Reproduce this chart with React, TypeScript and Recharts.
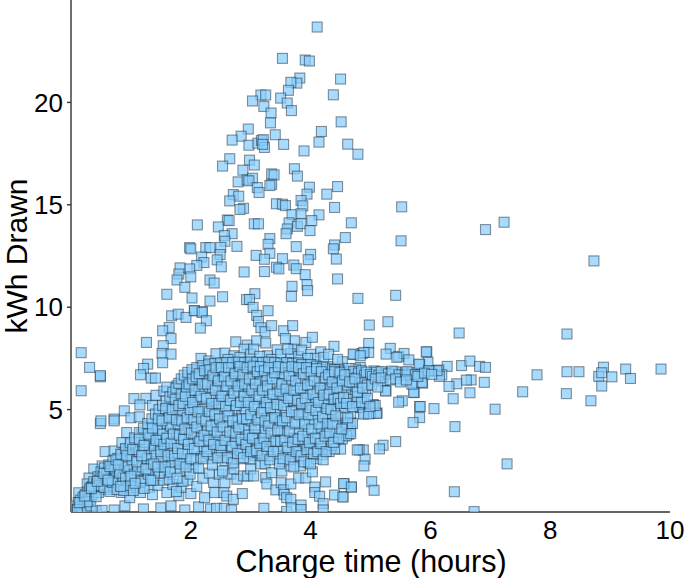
import React from "react";
import { ScatterChart, Scatter, XAxis, YAxis } from "recharts";

type Pt = [number, number];

const xTicks = [2, 4, 6, 8, 10];
const yTicks = [5, 10, 15, 20];
const xTitle = "Charge time (hours)";
const yTitle = "kWh Drawn";

const upperBranch: Pt[] = [[4.11,23.68],[3.53,22.15],[3.91,22.07],[3.98,22.02],[4.5,21.14],[3.82,21.19],[3.77,20.94],[3.67,20.98],[3.63,20.59],[4.38,20.37],[3.17,20.36],[3.25,20.36],[3.03,20.07],[3.5,20.21],[3.61,19.97],[3.22,19.8],[3.68,19.6],[3.34,19.48],[3.33,19.0],[4.51,19.05],[4.18,18.58],[2.96,18.7],[2.84,18.35],[2.69,18.16],[3.41,18.42],[4.14,18.06],[4.62,17.96],[4.79,17.47],[3.55,17.95],[3.89,17.63],[2.97,17.91],[3.12,18.01],[3.18,18.14],[3.21,18.18],[3.23,17.8],[3.2,17.95],[2.65,17.25],[2.53,16.89],[2.98,17.18],[3.06,16.94],[2.87,16.69],[3.73,16.76],[3.78,16.4],[3.35,16.51],[3.39,16.46],[2.79,16.12],[2.94,16.22],[3.03,16.3],[2.97,16.17],[3.35,16.0],[3.32,15.94],[3.11,15.84],[3.14,15.6],[3.98,15.86],[4.45,15.89],[3.94,15.52],[4.27,15.52],[2.71,15.5],[2.8,15.42],[2.65,15.19],[3.84,15.21],[3.87,14.95],[3.43,15.05],[3.53,15.03],[3.58,14.96],[4.4,14.87],[5.52,14.9],[2.88,14.83],[2.82,14.77],[3.69,14.52],[3.84,14.56],[4.14,14.51],[2.61,14.26],[2.64,14.23],[2.11,14.02],[2.46,13.92],[3.06,14.07],[3.13,14.07],[3.64,14.12],[3.61,13.82],[3.59,13.59],[3.78,13.95],[3.84,14.08],[4.02,14.23],[3.99,13.74],[4.68,14.12],[2.69,13.59],[2.56,13.5],[2.57,13.22],[3.32,13.35],[3.29,13.07],[4.58,13.4],[5.51,13.24],[3.76,12.96],[4.4,13.04],[4.38,12.85],[1.98,12.91],[2.0,12.85],[2.25,12.91],[2.32,12.91],[2.77,12.97],[2.5,12.92],[2.49,12.57],[2.44,12.31],[3.32,12.63],[3.09,12.53],[3.23,12.34],[3.53,12.37],[4.0,12.58],[3.96,12.32],[4.43,12.35],[2.18,12.45],[2.22,12.18],[2.1,12.04],[1.98,11.87],[1.82,11.92],[1.8,11.62],[1.77,11.33],[2.51,11.97],[2.0,11.48],[1.9,10.97],[2.32,11.33],[2.39,11.18],[2.89,11.72],[3.23,11.74],[3.43,11.95],[3.47,11.87],[3.72,12.06],[3.76,11.88],[3.91,11.59],[4.45,11.38],[3.69,11.02],[3.94,11.1],[3.95,10.81],[3.68,10.53],[4.79,10.43],[5.42,10.58],[1.6,10.63],[2.02,10.45],[2.32,10.3],[2.53,10.51],[3.07,10.66],[2.93,10.37],[2.98,10.38],[2.06,9.83],[2.19,9.78],[3.04,9.99],[3.29,9.83],[3.1,9.6],[3.13,9.3],[3.17,9.0],[3.24,8.8],[3.35,9.1],[3.55,8.85],[3.7,9.1]];

const leftStragglers: Pt[] = [[1.68,9.58],[1.79,9.66],[1.92,9.5],[2.06,9.83],[2.19,9.75],[2.26,9.34],[2.16,8.98],[1.64,9.01],[1.53,8.85],[1.67,8.47],[1.54,8.12],[1.52,7.74],[1.67,7.71],[1.53,7.29],[1.26,8.28],[0.17,7.78],[0.31,7.06],[0.49,6.6],[0.49,6.66],[0.17,5.92],[1.28,7.22],[1.21,7.01],[1.16,6.7],[1.34,6.54],[1.41,6.54],[1.05,5.54],[1.25,5.55],[1.15,5.23],[0.89,4.94],[0.72,4.54],[0.49,4.32],[1.0,4.6],[1.14,4.65],[1.36,5.2],[1.42,5.7],[1.55,5.9],[1.6,6.1],[0.57,2.95],[0.72,2.98],[0.85,3.39],[0.93,3.88],[0.5,4.45],[0.72,4.45],[0.38,2.1],[0.52,2.25],[0.3,1.66],[0.27,1.37],[0.13,0.94]];

const rightTail: Pt[] = [[7.23,14.15],[6.92,13.79],[8.73,12.26],[4.98,9.13],[5.29,9.29],[6.48,8.74],[8.28,8.69],[4.97,8.23],[5.33,7.99],[5.26,7.71],[4.72,7.69],[4.86,7.74],[4.97,7.79],[5.47,7.6],[5.56,7.74],[5.64,7.43],[5.94,7.82],[5.96,7.32],[5.82,7.2],[6.28,7.11],[6.52,7.15],[6.66,7.37],[6.82,7.11],[6.92,7.06],[6.14,6.93],[6.19,6.7],[6.15,6.62],[5.99,6.88],[5.83,6.73],[5.85,6.6],[5.68,6.81],[5.64,6.73],[5.53,6.8],[5.42,6.85],[5.25,6.81],[5.21,6.4],[5.06,6.89],[4.97,6.57],[4.83,7.06],[4.75,6.98],[4.61,6.81],[7.78,6.7],[8.28,6.85],[8.48,6.85],[8.89,7.07],[8.81,6.62],[8.86,6.8],[9.03,6.6],[9.26,6.98],[9.34,6.52],[9.85,6.98],[7.54,5.87],[8.27,5.78],[8.68,5.43],[8.86,6.15],[6.9,6.33],[6.68,6.45],[6.6,6.44],[6.44,6.26],[6.31,6.13],[6.66,5.82],[6.38,5.53],[7.08,5.02],[6.06,5.05],[5.82,5.15],[5.83,5.15],[5.73,5.83],[5.87,6.29],[5.71,6.27],[5.26,5.92],[5.53,5.43],[5.47,5.36],[5.82,4.61],[5.71,4.37],[6.41,4.17],[5.42,3.44],[5.21,3.26],[5.15,3.08],[4.88,3.03],[4.81,3.03],[4.91,2.58],[4.89,2.25],[7.28,2.35],[6.4,0.99],[5.02,1.48],[5.06,1.06],[4.68,1.22],[4.56,1.38],[4.54,0.75],[6.73,0.02],[5.11,4.83],[5.0,4.83],[4.89,4.83],[5.04,5.23],[4.82,5.1],[4.67,4.36],[4.57,4.36],[4.64,3.8],[4.57,3.72],[4.5,3.07],[4.72,5.43],[4.89,5.51],[4.92,5.92],[4.81,6.11],[4.72,5.83],[4.58,5.76]];

const ribbon: Pt[] = [[4.39,8.09],[4.71,7.71],[4.89,7.79],[4.83,7.63],[5.44,7.55],[5.93,7.82],[4.53,7.34],[3.92,8.28],[3.73,8.36],[4.03,8.53],[4.17,7.82],[5.81,7.22],[6.11,6.9],[5.97,6.9],[5.25,6.75],[5.72,5.84],[5.25,5.91],[5.86,6.33],[5.69,6.24],[5.05,5.23],[4.81,5.12],[4.88,4.78],[5.1,4.82],[4.75,5.35],[4.97,4.79],[4.67,4.82],[4.58,4.37],[4.66,3.96],[4.42,4.37],[4.3,7.1],[4.36,6.9],[4.41,6.72],[4.46,7.02],[4.5,6.62],[4.55,6.88],[4.6,6.58],[4.64,7.01],[4.68,6.7],[4.72,6.86],[4.77,6.55],[4.8,6.78],[4.85,6.9],[4.9,6.68],[4.93,6.83],[5.0,6.72],[5.03,6.62],[5.1,6.82],[5.14,6.68],[5.18,6.86],[5.3,6.74],[5.36,6.88],[5.48,6.7],[5.58,6.68],[5.61,6.86],[5.75,6.7],[5.79,6.62],[5.9,6.78],[6.02,6.72],[4.33,6.3],[4.45,6.25],[4.52,6.05],[4.62,6.2],[4.69,6.34],[4.76,6.12],[4.86,6.3],[4.95,6.2],[4.38,5.85],[4.48,5.6],[4.64,5.5],[4.78,5.62],[4.35,5.3],[4.47,5.15],[4.56,5.05],[4.4,4.9],[4.5,4.62],[4.34,4.66]];

const wedgeLow: Pt[] = [[0.02,0.05],[0.05,0.15],[0.08,0.3],[0.1,0.1],[0.12,0.45],[0.15,0.25],[0.16,0.58],[0.18,0.05],[0.2,0.72],[0.22,0.4],[0.24,0.85],[0.26,0.15],[0.28,0.98],[0.3,0.6],[0.31,1.12],[0.33,0.3],[0.35,0.85],[0.36,1.25],[0.38,1.48],[0.4,1.1],[0.42,0.05],[0.43,1.38],[0.45,1.72],[0.46,0.95],[0.48,1.55],[0.5,1.95],[0.5,1.25],[0.52,0.08],[0.53,1.72],[0.56,2.15],[0.58,1.4],[0.6,1.9],[0.62,1.1],[0.63,2.3],[0.66,1.65],[0.68,2.05],[0.7,2.5],[0.71,1.25],[0.72,0.1],[0.74,1.85],[0.76,2.25],[0.78,2.62],[0.8,1.5],[0.82,2.05],[0.84,0.95],[0.85,2.8],[0.87,1.75],[0.89,2.35],[0.9,0.3],[0.92,3.05],[0.93,1.3],[0.95,2.6],[0.97,2.0],[0.98,0.7],[1.0,3.3],[1.01,2.85],[1.03,1.6],[1.05,2.25],[1.07,3.0],[1.08,3.55],[1.1,1.2],[1.12,2.7],[1.13,1.9],[1.15,3.25],[1.16,0.95],[1.18,3.8],[1.2,2.4],[1.21,0.15],[1.23,3.0],[1.25,1.55],[1.26,3.55],[1.28,2.1],[1.3,4.15],[1.31,1.2],[1.33,2.8],[1.35,3.35],[1.36,0.85],[1.38,3.85],[1.4,1.95],[1.41,2.45],[1.43,4.4],[1.45,1.3],[1.46,3.1],[1.48,3.6],[1.5,0.2],[1.5,4.1],[1.52,2.2],[1.54,4.75],[1.55,1.55],[1.57,2.85],[1.58,3.4],[1.6,0.95],[1.6,4.3],[1.62,5.1],[1.63,2.45],[1.65,3.85],[1.67,0.3],[1.68,5.4],[1.7,1.35],[1.7,3.1],[1.72,4.55],[1.74,2.1],[1.75,3.6],[1.77,5.05],[1.78,5.7],[1.8,0.8],[1.8,2.7],[1.82,4.1],[1.84,1.2],[1.85,3.3],[1.86,5.95],[1.88,4.75],[1.89,2.4],[1.9,0.1],[1.91,6.35],[1.92,3.85],[1.94,5.3],[1.95,1.55],[1.96,2.95],[1.98,6.55],[2.0,4.35],[2.0,0.9],[2.01,5.75],[2.03,3.5],[2.04,2.15],[2.05,6.15],[2.07,6.75],[2.08,4.85],[2.1,1.25],[2.1,3.0],[2.12,5.45],[2.13,0.25],[2.15,6.45],[2.16,3.9],[2.17,6.92],[2.18,2.7],[2.2,4.4],[2.2,1.65],[2.22,5.95],[2.23,0.7],[2.25,5.15],[2.26,7.05],[2.27,3.4],[2.29,6.6],[2.3,2.85],[2.32,4.7],[2.33,0.15],[2.34,7.15],[2.35,3.9],[2.36,6.05],[2.38,1.45],[2.38,5.45],[2.4,0.95],[2.4,6.8],[2.41,3.1],[2.43,0.18],[2.43,4.3],[2.45,7.2],[2.46,5.7],[2.47,1.85],[2.48,2.9],[2.5,6.35],[2.5,3.7],[2.52,4.85],[2.53,7.22],[2.55,0.95],[2.55,5.3],[2.56,0.18],[2.57,1.43],[2.58,6.8],[2.6,0.78],[2.6,3.15],[2.61,4.4],[2.63,5.9],[2.65,7.25],[2.66,2.75],[2.67,1.85],[2.68,0.1],[2.69,6.25],[2.7,3.75],[2.71,0.62],[2.72,2.1],[2.73,5.05],[2.74,7.0],[2.76,4.25],[2.77,1.6],[2.78,5.6],[2.8,3.2],[2.8,6.6],[2.82,2.6],[2.84,7.28],[2.85,4.7],[2.86,0.9],[2.87,6.05],[2.88,1.76],[2.9,3.65],[2.92,5.3],[2.93,2.85],[2.95,1.76],[2.95,6.85],[2.97,4.25],[2.98,7.3],[3.0,2.1],[3.0,5.7],[3.02,3.2],[3.03,6.35],[3.05,1.76],[3.05,4.75],[3.07,2.75],[3.08,7.0],[3.1,3.75],[3.12,5.25],[3.13,7.3],[3.15,6.05],[3.17,2.35],[3.17,4.25],[3.19,6.6],[3.2,3.05],[3.22,0.18],[3.23,5.6],[3.24,2.35],[3.25,1.68],[3.26,7.28],[3.27,1.37],[3.28,4.8],[3.3,3.55],[3.31,6.2],[3.33,2.75],[3.35,1.92],[3.35,6.9],[3.37,4.3],[3.39,5.3],[3.4,3.2],[3.42,1.08],[3.42,7.25],[3.44,5.85],[3.45,2.6],[3.47,3.85],[3.48,6.45],[3.5,4.75],[3.51,1.43],[3.52,2.0],[3.53,7.0],[3.54,3.2],[3.55,1.08],[3.56,0.86],[3.57,5.35],[3.58,2.75],[3.6,0.7],[3.6,0.03],[3.61,6.15],[3.62,4.25],[3.64,7.3],[3.65,3.6],[3.67,2.25],[3.67,0.62],[3.67,1.37],[3.68,0.2],[3.69,5.7],[3.7,2.85],[3.71,6.7],[3.73,4.75],[3.74,3.25],[3.76,5.2],[3.77,7.27],[3.78,6.2],[3.8,2.6],[3.8,1.66],[3.8,3.9],[3.82,6.85],[3.83,2.25],[3.84,0.34],[3.84,0.12],[3.85,4.4],[3.86,5.75],[3.88,3.05],[3.9,7.25],[3.9,6.4],[3.92,1.66],[3.93,5.0],[3.95,3.6],[3.97,2.41],[3.97,6.95],[3.98,4.3],[4.0,5.45],[4.0,2.85],[4.02,6.15],[4.03,1.96],[4.05,3.3],[4.06,7.2],[4.07,1.22],[4.07,0.95],[4.08,4.7],[4.1,2.6],[4.11,5.85],[4.13,3.85],[4.14,6.7],[4.15,0.77],[4.16,7.1],[4.18,5.1],[4.2,3.1],[4.21,0.41],[4.21,0.1],[4.22,6.25],[4.24,4.35],[4.25,1.47],[4.26,6.95],[4.28,5.55],[4.3,3.57],[4.31,2.95],[4.33,7.0],[4.35,3.25],[4.4,3.08],[4.4,0.83],[4.42,4.29],[4.53,3.57],[4.54,0.73],[4.55,1.39],[4.6,3.72],[4.61,4.3],[4.67,3.83],[4.7,4.32],[4.68,1.22],[4.78,3.03]];

const wedgeFill: Pt[] = [[0.11,0.12],[0.27,0.5],[0.34,1.2],[0.42,0.75],[0.47,1.3],[0.55,1.2],[0.59,1.6],[0.65,1.0],[0.69,1.45],[0.73,2.15],[0.77,1.1],[0.81,1.9],[0.86,2.5],[0.88,1.05],[0.91,1.65],[0.94,2.2],[0.96,3.0],[0.99,1.3],[1.02,2.55],[1.04,1.05],[1.06,1.85],[1.09,3.3],[1.11,2.05],[1.14,2.95],[1.17,1.5],[1.19,2.2],[1.22,1.15],[1.24,3.4],[1.27,2.6],[1.29,1.85],[1.32,3.7],[1.34,2.3],[1.37,1.55],[1.39,3.1],[1.42,2.75],[1.44,4.0],[1.47,1.9],[1.49,3.3],[1.51,2.55],[1.53,3.8],[1.56,1.9],[1.59,4.55],[1.61,3.05],[1.64,1.6],[1.66,4.2],[1.69,2.4],[1.71,5.15],[1.73,3.4],[1.76,1.0],[1.79,4.3],[1.81,2.0],[1.83,4.85],[1.87,1.5],[1.9,3.5],[1.93,2.55],[1.97,5.45],[1.99,1.85],[2.02,4.05],[2.06,5.1],[2.09,2.55],[2.11,3.6],[2.14,6.0],[2.19,5.0],[2.21,3.2],[2.24,6.35],[2.28,4.05],[2.31,1.9],[2.33,5.6],[2.37,2.6],[2.39,6.55],[2.42,3.5],[2.44,5.0],[2.47,6.95],[2.49,4.2],[2.51,3.0],[2.54,5.95],[2.57,2.5],[2.59,6.6],[2.62,3.5],[2.64,4.95],[2.67,5.5],[2.68,2.6],[2.72,6.65],[2.75,3.4],[2.79,4.5],[2.81,5.9],[2.83,3.0],[2.86,6.4],[2.89,4.05],[2.91,5.0],[2.94,3.4],[2.96,6.1],[2.99,2.6],[3.01,4.45],[3.04,6.75],[3.06,3.55],[3.09,5.5],[3.11,2.9],[3.14,4.6],[3.16,6.35],[3.18,3.4],[3.21,5.05],[3.24,3.9],[3.27,6.5],[3.29,2.95],[3.32,5.5],[3.34,4.55],[3.36,7.05],[3.38,3.5],[3.41,5.0],[3.43,6.3],[3.46,3.0],[3.49,4.4],[3.52,5.6],[3.55,6.75],[3.56,3.85],[3.59,4.9],[3.63,2.95],[3.66,5.45],[3.68,6.4],[3.72,3.6],[3.75,4.3],[3.79,5.5],[3.81,3.0],[3.84,6.5],[3.87,4.9],[3.91,3.35],[3.94,5.7],[3.96,4.0],[3.99,6.6],[4.01,3.1],[4.04,4.5],[4.09,5.5],[4.12,3.55],[4.15,6.4],[4.17,4.1],[4.19,2.8],[4.23,5.3],[4.27,3.9],[4.29,4.8],[4.32,6.0],[4.37,3.7],[4.41,5.55],[4.44,3.9],[4.49,6.45]];

const aboveRidge: Pt[] = [[2.75,8.31],[2.94,8.15],[3.1,8.36],[3.25,8.25],[3.58,8.47],[3.44,7.92],[2.17,7.5],[2.3,7.38],[2.42,7.73],[2.57,7.76],[2.72,7.63],[2.89,7.95],[3.0,7.71],[3.28,7.63],[3.72,7.95],[3.67,7.73],[1.77,6.16],[2.62,7.45],[2.82,7.55],[3.05,7.95],[3.15,7.6],[3.35,7.45],[3.5,7.7],[3.62,7.95],[3.8,7.6],[3.85,7.9],[4.0,7.7],[4.08,7.5],[4.22,7.55],[3.95,7.5],[4.3,7.7],[4.45,7.45]];

const edgeHugging: Pt[] = [[0.14,0.46],[0.23,0.78],[0.34,1.15],[0.44,1.5],[0.55,1.88],[0.65,2.22],[0.75,2.55],[0.83,2.82],[0.91,3.1],[0.99,3.38],[1.06,3.62],[1.14,3.88],[1.21,4.1],[1.28,4.32],[1.35,4.55],[1.41,4.78],[1.47,5.0],[1.53,5.2],[1.59,5.42],[1.65,5.62],[1.7,5.85],[1.75,6.05],[1.8,6.28],[1.84,6.5],[1.89,6.68],[1.95,6.82],[2.02,6.95],[2.1,7.05],[2.2,7.15],[2.3,7.22],[2.4,7.26],[2.5,7.28],[2.6,7.3],[2.7,7.3],[2.8,7.32],[2.9,7.3],[3.0,7.33],[3.1,7.31],[3.2,7.3],[3.3,7.32],[3.4,7.3],[3.5,7.28],[3.6,7.3],[3.7,7.26],[3.8,7.28],[3.85,7.2],[4.0,7.2],[4.1,7.12],[4.2,7.08],[4.4,6.95]];

const midLayer: Pt[] = [[0.62,1.55],[0.79,2.3],[0.83,1.25],[0.93,2.75],[1.0,1.75],[1.03,3.05],[1.07,1.4],[1.1,2.45],[1.14,3.55],[1.18,2.75],[1.22,3.25],[1.25,2.1],[1.29,3.8],[1.33,1.55],[1.36,4.1],[1.38,2.35],[1.42,3.5],[1.45,2.2],[1.46,4.55],[1.5,2.95],[1.52,4.45],[1.55,3.3],[1.57,2.2],[1.58,5.05],[1.6,3.6],[1.62,2.75],[1.64,4.6],[1.66,1.95],[1.67,3.35],[1.69,5.0],[1.71,3.8],[1.73,2.75],[1.74,5.5],[1.76,4.5],[1.77,1.65],[1.78,3.1],[1.8,5.2],[1.81,3.75],[1.82,2.35],[1.84,5.75],[1.85,4.45],[1.86,2.85],[1.87,5.3],[1.88,3.55],[1.9,4.05],[1.91,5.65],[1.92,2.2],[1.93,6.1],[1.94,4.6],[1.96,3.3],[1.97,6.25],[1.99,5.0],[2.0,2.6],[2.01,3.85],[2.03,6.5],[2.03,5.35],[2.05,4.5],[2.06,3.1],[2.07,5.95],[2.09,6.6],[2.1,4.15],[2.12,4.9],[2.13,2.15],[2.14,6.75],[2.15,3.45],[2.17,5.65],[2.18,4.55],[2.19,6.25],[2.21,2.6],[2.22,3.75],[2.23,6.9],[2.25,4.45],[2.26,5.55],[2.27,2.95],[2.28,6.25],[2.3,3.5],[2.31,4.9],[2.32,6.95],[2.34,4.2],[2.35,5.3],[2.36,2.3],[2.37,6.65],[2.38,3.3],[2.4,4.75],[2.41,5.95],[2.42,7.05],[2.44,3.9],[2.45,2.65],[2.46,6.4],[2.47,5.3],[2.48,4.55],[2.5,3.25],[2.51,7.05],[2.52,5.65],[2.53,2.0],[2.54,4.15],[2.56,6.6],[2.57,3.5],[2.58,5.15],[2.6,6.15],[2.61,2.65],[2.62,4.7],[2.63,7.05],[2.65,3.9],[2.66,5.45],[2.67,6.4],[2.69,3.2],[2.7,4.45],[2.71,2.4],[2.72,5.8],[2.74,6.75],[2.75,3.85],[2.76,5.2],[2.78,2.85],[2.79,6.15],[2.8,4.15],[2.82,7.1],[2.83,5.35],[2.84,3.55],[2.86,4.55],[2.87,6.7],[2.88,2.65],[2.89,5.65],[2.9,6.25],[2.92,3.3],[2.93,4.55],[2.94,7.05],[2.96,5.35],[2.97,3.75],[2.98,6.5],[3.0,2.95],[3.0,4.75],[3.02,5.95],[3.03,3.6],[3.04,7.12],[3.06,5.15],[3.07,4.1],[3.08,6.25],[3.1,3.0],[3.11,6.85],[3.12,4.5],[3.14,5.65],[3.15,3.35],[3.16,7.1],[3.18,4.85],[3.19,2.75],[3.2,5.95],[3.22,3.6],[3.23,6.9],[3.24,4.45],[3.26,5.35],[3.27,3.2],[3.28,6.15],[3.3,4.2],[3.3,7.05],[3.32,2.55],[3.33,5.1],[3.34,3.85],[3.36,6.5],[3.37,5.75],[3.38,2.95],[3.4,4.6],[3.4,6.8],[3.42,3.45],[3.44,5.25],[3.45,4.0],[3.46,7.1],[3.48,2.35],[3.49,5.9],[3.5,3.45],[3.52,6.25],[3.53,4.45],[3.54,2.6],[3.55,5.2],[3.57,3.5],[3.58,7.05],[3.59,6.0],[3.6,4.6],[3.61,3.15],[3.63,5.55],[3.64,6.65],[3.65,3.95],[3.66,2.55],[3.68,4.9],[3.69,7.1],[3.7,3.4],[3.72,5.95],[3.72,2.2],[3.74,4.35],[3.75,6.4],[3.76,2.95],[3.78,5.45],[3.79,3.55],[3.8,7.05],[3.81,4.75],[3.83,6.05],[3.84,2.75],[3.85,5.3],[3.87,3.7],[3.88,6.75],[3.89,2.45],[3.9,4.3],[3.91,5.55],[3.93,7.05],[3.94,3.05],[3.95,6.2],[3.96,4.75],[3.98,3.4],[3.99,5.1],[4.0,2.35],[4.01,6.85],[4.02,4.05],[4.04,5.75],[4.05,2.85],[4.06,6.4],[4.08,3.6],[4.09,4.95],[4.1,7.0],[4.12,2.95],[4.13,5.35],[4.14,4.3],[4.16,6.05],[4.17,3.35],[4.18,6.85],[4.2,4.65],[4.21,2.55],[4.22,5.7],[4.24,3.7],[4.25,6.55],[4.26,2.95],[4.27,5.05],[4.28,4.3],[4.3,6.7],[4.31,5.75],[4.32,3.85],[4.34,5.0],[4.36,6.35],[4.37,4.3],[4.38,3.4],[4.39,5.5],[4.4,6.85],[4.42,4.7],[4.44,6.05],[4.46,5.55],[4.47,3.6],[4.49,6.8],[4.5,5.3],[4.52,4.05],[4.53,6.4],[4.55,5.6],[4.57,6.7],[4.6,5.3],[4.62,4.6],[4.65,6.35],[4.7,5.15],[4.74,6.5],[4.78,5.85],[4.85,5.35],[4.87,6.05],[4.95,5.55],[5.02,6.2],[5.08,6.5],[5.12,6.1],[5.18,6.55],[5.33,6.45],[5.42,6.5],[5.5,6.35],[5.6,6.45],[5.08,5.2],[4.99,5.15]];

const squares = [...upperBranch, ...leftStragglers, ...rightTail, ...ribbon, ...wedgeLow, ...wedgeFill, ...aboveRidge, ...edgeHugging, ...midLayer].map(([x, y]) => ({ x, y }));

const SquareMark = (p: any) => (
  <rect
    x={p.cx - 5}
    y={p.cy - 5}
    width={10}
    height={10}
    fill="#86cdfc"
    fillOpacity={0.72}
    stroke="#12202c"
    strokeOpacity={0.48}
    strokeWidth={1.1}
  />
);

const font = "'Liberation Sans', Arial, sans-serif";

export default function App() {
  return (
    <div style={{ position: "absolute", left: 0, top: 0, width: 685, height: 578 }}>
      <ScatterChart width={685} height={578} margin={{ top: 0, right: 15, bottom: 0, left: 0 }}>
        <XAxis
          type="number"
          dataKey="x"
          domain={[0, 10]}
          ticks={xTicks}
          allowDataOverflow
          height={66}
          tickLine={false}
          tickMargin={3}
          stroke="#333"
          strokeWidth={1.4}
          tick={{ fill: "#000", fontSize: 26, fontFamily: font }}
          interval={0}
        />
        <YAxis
          type="number"
          dataKey="y"
          domain={[0, 25]}
          ticks={yTicks}
          allowDataOverflow
          width={71}
          tickSize={4}
          tickMargin={4}
          stroke="#333"
          strokeWidth={1.4}
          tick={{ fill: "#000", fontSize: 26, fontFamily: font }}
          interval={0}
        />
        <Scatter data={squares} shape={SquareMark} isAnimationActive={false} />
        <text x={371} y={571.5} textAnchor="middle" fontSize={30.5} fontFamily={font} fill="#000">{xTitle}</text>
        <text transform="translate(27,256) rotate(-90)" textAnchor="middle" fontSize={30} fontFamily={font} fill="#000">{yTitle}</text>
      </ScatterChart>
    </div>
  );
}
